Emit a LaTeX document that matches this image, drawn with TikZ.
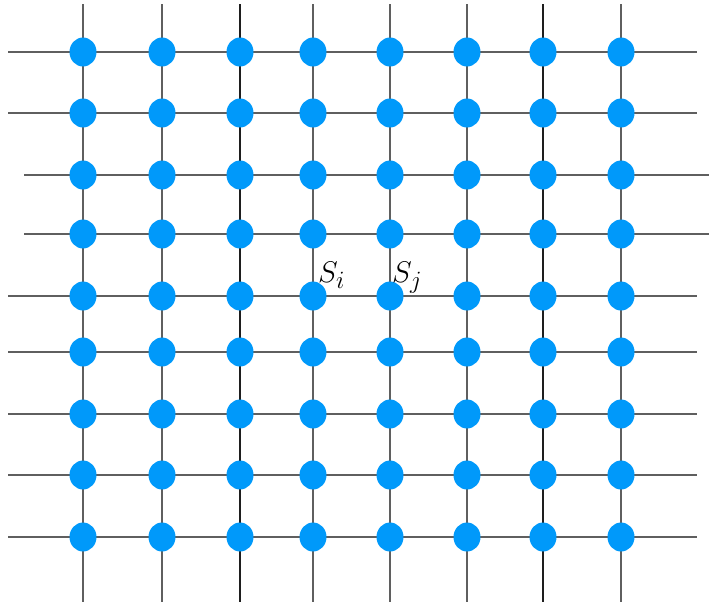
\documentclass[tikz,border=0pt]{standalone}
\usepackage{graphicx}
\usetikzlibrary{shapes.geometric}
\begin{document}
\begin{tikzpicture}[x=1pt,y=-1pt,
  gridline/.style={line width=1.5pt,draw={rgb,255:red,95;green,95;blue,95}},
  darkline/.style={line width=1.5pt,draw={rgb,255:red,30;green,30;blue,30}},
  dot/.style={ellipse,minimum width=27pt,minimum height=29pt,inner sep=0pt,fill={rgb,255:red,0;green,153;blue,250},draw=none},
  lab/.style={font=\fontsize{24.88}{30}\selectfont,inner sep=0pt,anchor=base west}]
\useasboundingbox (0,0) rectangle (709,606);
\def\colxs{83,162,240,313,390,467,543,621}
\def\rowys{52,113,175,234,296,352,414,475,537}
% vertical lines
\foreach \x [count=\c] in \colxs {
  \coordinate (vt\c) at (\x,4);
  \coordinate (vb\c) at (\x,602);
}
\foreach \c in {1,2,4,5,6,8} \draw[gridline] (vt\c) -- (vb\c);
\foreach \c in {3,7} \draw[darkline] (vt\c) -- (vb\c);
% horizontal lines
\foreach \y [count=\r] in \rowys {
  \ifnum\r=3 \coordinate (hl\r) at (24,\y); \coordinate (hr\r) at (709,\y);
  \else\ifnum\r=4 \coordinate (hl\r) at (24,\y); \coordinate (hr\r) at (709,\y);
  \else \coordinate (hl\r) at (8,\y); \coordinate (hr\r) at (697,\y);
  \fi\fi
  \draw[gridline] (hl\r) -- (hr\r);
}
% dots
\foreach \y [count=\r] in \rowys {
  \foreach \x [count=\c] in \colxs {
    \node[dot] (n\r-\c) at (\x,\y) {};
  }
}
\node[lab] (si) at (318,282) {\scalebox{1.2}{$S_i$}};
\node[lab] (sj) at (392,282) {\scalebox{1.2}{$S_j$}};
\end{tikzpicture}
\end{document}
